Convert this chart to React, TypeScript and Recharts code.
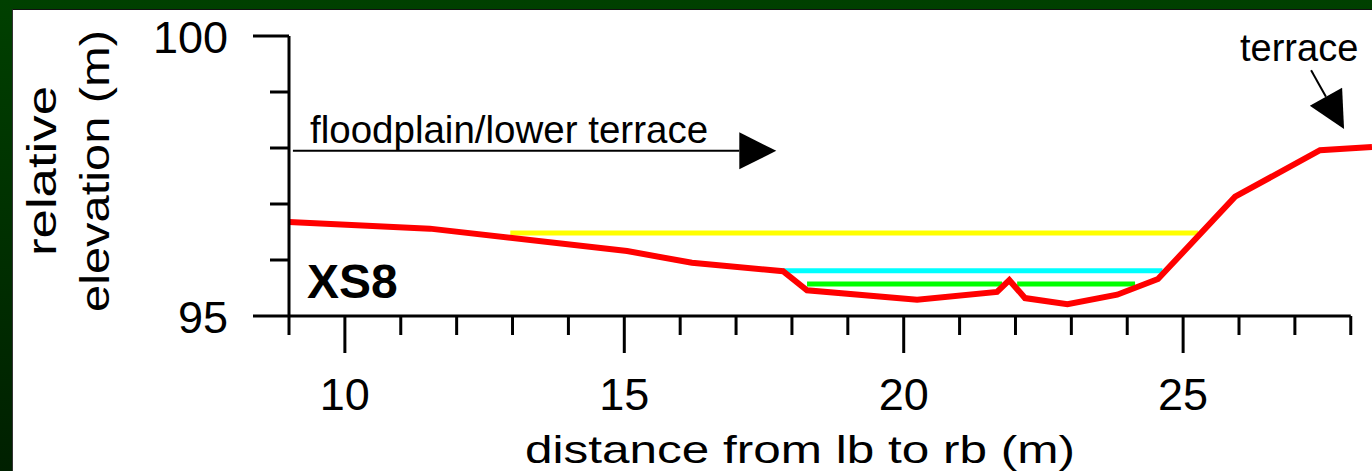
import { LineChart, Line, XAxis, YAxis, ReferenceLine } from "recharts";

// ground profile of the cross-section
const groundDist = [9, 11.52, 15.05, 16.21, 17.84, 18.27, 20.24, 21.67, 21.89, 22.17, 22.93, 23.82, 24.55, 25.93, 27.45, 28.38];
const groundElev = [96.68, 96.56, 96.16, 95.95, 95.8, 95.46, 95.29, 95.43, 95.64, 95.32, 95.21, 95.38, 95.66, 97.13, 97.96, 98.02];

// water surfaces
const yellowDist = [12.96, 25.27];
const yellowElev = [96.48, 96.48];
const cyanDist = [17.84, 24.63];
const cyanElev = [95.81, 95.81];
const greenDist = [18.27, 21.76, 21.9, 22.03, 24.14];
const greenElev = [95.57, 95.57, null, 95.57, 95.57];

const xTicks = [9, 10, 11, 12, 13, 14, 15, 16, 17, 18, 19, 20, 21, 22, 23, 24, 25, 26, 27, 28];
const xMajor = [10, 15, 20, 25];
const yTicks = [95, 96, 97, 98, 99, 100];
const yMajor = [95, 100];

const floodplainArrow = [{ x: 9.07, y: 97.95 }, { x: 17.72, y: 97.95 }];
const terraceArrow = [{ x: 27.29, y: 99.39 }, { x: 27.88, y: 98.34 }];

const toRows = (xs: number[], ys: (number | null)[]) => xs.map((x, i) => ({ x, elev: ys[i] }));

const ground = toRows(groundDist, groundElev);
const yellow = toRows(yellowDist, yellowElev);
const cyan = toRows(cyanDist, cyanElev);
const green = toRows(greenDist, greenElev);

const FONT = "'Liberation Sans', Arial, Helvetica, sans-serif";

const XTick = ({ x, y, payload }: any) => {
  const major = xMajor.includes(payload.value);
  return (
    <g>
      <line x1={x} x2={x} y1={y} y2={y + (major ? 37 : 19)} stroke="#000" strokeWidth={3} />
      {major && (
        <text x={x} y={y + 94} textAnchor="middle" fontSize={45} fontFamily={FONT} fill="#000">
          {payload.value}
        </text>
      )}
    </g>
  );
};

const YTick = ({ x, y, payload }: any) => {
  const major = yMajor.includes(payload.value);
  return (
    <g>
      <line x1={x} x2={x - (major ? 36 : 19)} y1={y} y2={y} stroke="#000" strokeWidth={3} />
      {major && (
        <text x={x - 61} y={y + 17} textAnchor="end" fontSize={45} fontFamily={FONT} fill="#000">
          {payload.value}
        </text>
      )}
    </g>
  );
};

const Arrow = ({ x1, y1, x2, y2 }: any) => {
  const len = Math.hypot(x2 - x1, y2 - y1);
  const ux = (x2 - x1) / len;
  const uy = (y2 - y1) / len;
  const head = 37;
  const half = 18.5;
  const bx = x2 - ux * head;
  const by = y2 - uy * head;
  return (
    <g>
      <line x1={x1} y1={y1} x2={bx} y2={by} stroke="#000" strokeWidth={2} />
      <polygon
        points={`${x2},${y2} ${bx - uy * half},${by + ux * half} ${bx + uy * half},${by - ux * half}`}
        fill="#000"
      />
    </g>
  );
};

export default function App() {
  return (
    <div
      style={{
        position: "fixed",
        left: 0,
        top: 0,
        width: 1372,
        height: 471,
        overflow: "hidden",
        background: "linear-gradient(to bottom, #004000, #002000)",
      }}
    >
      <div
        style={{
          position: "absolute",
          left: 12,
          top: 9,
          right: 0,
          bottom: 0,
          background: "#fff",
          borderTop: "1px solid #111",
          borderLeft: "1px solid #333",
        }}
      />
      <div style={{ position: "absolute", left: 0, top: 0 }}>
        <LineChart width={1372} height={471} margin={{ top: 36, right: 0, bottom: 0, left: 0 }}>
          <XAxis
            type="number"
            dataKey="x"
            domain={[9, 28.38]}
            ticks={xTicks}
            interval={0}
            height={155}
            axisLine={false}
            tickLine={false}
            tickSize={0}
            tickMargin={0}
            tick={<XTick />}
          />
          <YAxis
            type="number"
            domain={[95, 100]}
            ticks={yTicks}
            interval={0}
            width={289}
            axisLine={{ stroke: "#000", strokeWidth: 3 }}
            tickLine={false}
            tickSize={0}
            tickMargin={0}
            tick={<YTick />}
          />
          <ReferenceLine
            segment={[{ x: 9, y: 95 }, { x: 28, y: 95 }]}
            stroke="#000"
            strokeWidth={3}
          />
          <Line data={yellow} dataKey="elev" stroke="#ffff00" strokeWidth={5} dot={false} activeDot={false} isAnimationActive={false} />
          <Line data={cyan} dataKey="elev" stroke="#00ffff" strokeWidth={5} dot={false} activeDot={false} isAnimationActive={false} />
          <Line data={green} dataKey="elev" stroke="#00ff00" strokeWidth={5} dot={false} activeDot={false} isAnimationActive={false} />
          <Line data={ground} dataKey="elev" stroke="#ff0000" strokeWidth={6} dot={false} activeDot={false} isAnimationActive={false} />
          <ReferenceLine segment={floodplainArrow} shape={(p: any) => <Arrow {...p} />} />
          <ReferenceLine segment={terraceArrow} shape={(p: any) => <Arrow {...p} />} />
          <text x={310} y={143} fontSize={38.5} fontFamily={FONT} fill="#000">floodplain/lower terrace</text>
          <text x={1240} y={61} fontSize={38} fontFamily={FONT} fill="#000">terrace</text>
          <text x={307} y={298} fontSize={48} fontWeight="bold" fontFamily={FONT} fill="#000">XS8</text>
          <text x={800} y={463} textAnchor="middle" fontSize={39} fontFamily={FONT} fill="#000" textLength={550} lengthAdjust="spacingAndGlyphs">
            distance from lb to rb (m)
          </text>
          <text transform="translate(56,171) rotate(-90)" textAnchor="middle" fontSize={40} fontFamily={FONT} fill="#000" textLength={170} lengthAdjust="spacingAndGlyphs">
            relative
          </text>
          <text transform="translate(109,171) rotate(-90)" textAnchor="middle" fontSize={40} fontFamily={FONT} fill="#000" textLength={282} lengthAdjust="spacingAndGlyphs">
            elevation (m)
          </text>
        </LineChart>
      </div>
    </div>
  );
}
